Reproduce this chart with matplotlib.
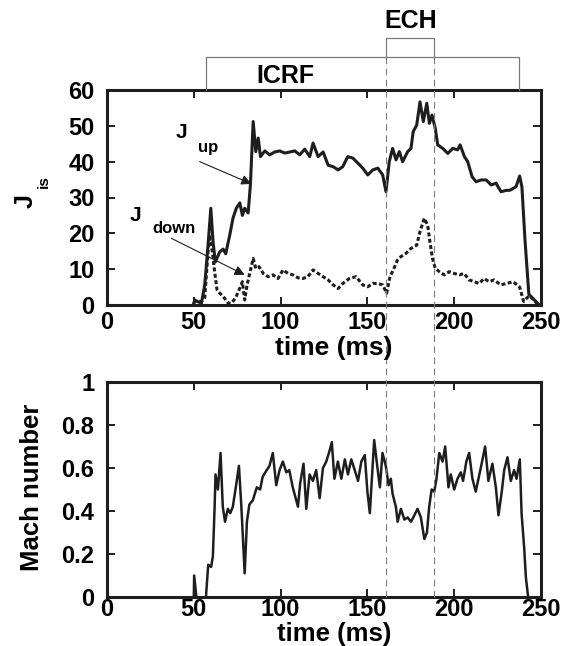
import matplotlib
matplotlib.use("Agg")
import matplotlib.pyplot as plt
from matplotlib.lines import Line2D
from matplotlib.transforms import blended_transform_factory

plt.rcParams['font.family'] = ['Liberation Sans', 'DejaVu Sans']
plt.rcParams['font.weight'] = 'bold'

# J_up (solid)
jup_t = [50, 50.6, 52, 54.4, 56.3, 58.2, 59.8, 61.1, 62.4, 64.9, 66.9, 68.4, 70.7, 72.6,
         74.5, 76.5, 78, 79.3, 81.3, 82.6, 84.2, 85.7, 87.1, 88.4, 90.9, 93.7, 96.6, 99.5,
         102.4, 105.3, 108.2, 111, 113.9, 116.8, 118.7, 121.6, 124.5, 127.4, 130.3, 133.1,
         135.8, 138.7, 141.6, 144.5, 147.3, 150.2, 153.1, 156, 158.8, 160.7, 162.6, 164.5,
         166.5, 168.4, 170.3, 173.2, 175.1, 176.4, 178.4, 180.3, 182.2, 184.2, 185.7, 187.2,
         189.1, 190.5, 193.4, 196.3, 199.2, 202, 203.4, 205.9, 207.8, 210.3, 212.6, 215.5,
         218.4, 221.3, 224.1, 227, 230, 232, 235.6, 237.7, 239, 240.8, 243, 245, 247, 249]
jup = [0.5, 1.4, 1.0, 0.5, 5.6, 16.7, 27, 17.6, 12, 14.8, 15.6, 14.3, 19.5, 24.3,
       27, 28.5, 25, 27, 25.7, 33.5, 51.2, 42.8, 46.6, 41.4, 43, 41.9, 42.7, 43,
       42.4, 42.7, 43, 41.9, 43.5, 41.4, 45.2, 41.4, 42.7, 39, 38.6, 37.7,
       38.6, 41.4, 41, 39.6, 38.2, 36.3, 37.7, 38.2, 36.3, 31.6, 40, 43.7,
       40.5, 42.8, 40, 42.8, 43.7, 48.4, 50.2, 56.7, 51.2, 56.3, 50.7, 53,
       49.3, 44.7, 43.7, 42.3, 43.7, 43.3, 44.7, 41.4, 40, 35.8, 34.4, 34.9,
       34.9, 33.5, 34, 31.6, 32, 32, 33, 36, 33, 18, 3, 2, 1, 0]

# J_down (dashed)
jdown_t = [50, 50.6, 54.4, 56.3, 58.2, 59.2, 60.7, 62, 63.4, 64.9, 66.9, 69.8, 71.6, 74.1,
           76.4, 78, 79.3, 80.7, 82.2, 84.2, 85.7, 87.6, 90, 92.8, 95.6, 98.5, 101.4, 104.3,
           107.1, 110, 112.9, 115.7, 118.7, 121.6, 124.5, 127.4, 130.3, 133.1, 135.8, 139.6,
           143.5, 147.3, 150.2, 153.1, 156, 158.8, 161.1, 163, 164.9, 167.4, 169.3, 172.2,
           175.1, 178.4, 180.3, 182.8, 184.7, 186, 187.5, 189.1, 191.4, 194.3, 197.1, 200,
           202.9, 205.7, 208.6, 211.5, 214.4, 217.2, 220.1, 223, 226.8, 230, 234, 237.7,
           240, 243, 246, 248]
jdown = [0.5, 1, 1, 2, 14.8, 19.5, 14.8, 9.3, 4.2, 3.3, 2.4, 0.5, 0.5, 2,
         4.6, 6.5, 1.4, 5.6, 8.8, 13, 10.2, 10.7, 8.8, 7.9, 8.4, 7.4, 9.8, 8.8,
         8.4, 7.6, 7.4, 7.9, 9.8, 8.8, 7.9, 7, 5.6, 4.6, 6, 7.4,
         7.9, 5.6, 5.1, 6, 6, 5.6, 3.3, 7.9, 9.8, 12.6, 13.5, 14.4,
         15.8, 16.7, 20.5, 24.2, 22.3, 17.7, 13, 10.2, 9.3, 8.4, 9.3, 8.8,
         8.4, 8.8, 7, 6.5, 6, 7.4, 6.5, 7, 5.6, 6, 6.5, 5,
         1, 2.5, 1.5, 0]

# Mach number
mach_t1 = [50, 50.2, 51.5]
mach_v1 = [0, 0.10, 0]
mach_t2 = [57, 58.3, 60, 61, 62, 62.5, 63.9, 65.4, 66.7, 68,
           69.6, 71, 72.5, 74, 76, 77.4, 79.3, 80.6, 82, 84,
           86.3, 88.2, 89.7, 92, 93.6, 95.5, 97.5, 99.4, 101.3, 103.3,
           105, 107, 110, 111.3, 113.2, 114.8, 116.7, 118.6, 120.5, 122.5,
           124.4, 126.3, 128.2, 129.5, 131, 133, 135, 137, 138.8, 140.7,
           142.7, 144.6, 146.5, 148.5, 150, 151.4, 153.9, 155.8, 157.2, 158.7,
           160.6, 162.2, 163.5, 164.5, 166.4, 167.4, 169.3, 171.3, 173.2, 175.1,
           176.4, 178.9, 180.8, 182.8, 184.3, 185.6, 187, 188.5, 189.8, 191.4,
           193.3, 194.8, 196.7, 198, 200, 201.9, 203.8, 205.1, 207, 208.6,
           210.5, 212.4, 215.3, 217.8, 219.7, 222, 224, 225.5, 227.4, 228.8,
           230.7, 232.6, 234.5, 235.9, 237.8, 238.8, 240.3, 241.3, 242.6]
mach_v2 = [0, 0.15, 0.14, 0.19, 0.42, 0.57, 0.5, 0.67, 0.42, 0.35,
           0.41, 0.39, 0.42, 0.5, 0.61, 0.42, 0.11, 0.35, 0.43, 0.45,
           0.51, 0.5, 0.56, 0.59, 0.61, 0.67, 0.52, 0.59, 0.63, 0.58,
           0.59, 0.51, 0.42, 0.53, 0.62, 0.41, 0.57, 0.54, 0.59, 0.46,
           0.6, 0.63, 0.68, 0.72, 0.55, 0.63, 0.55, 0.64, 0.57, 0.64,
           0.59, 0.54, 0.63, 0.66, 0.49, 0.39, 0.73, 0.6, 0.51, 0.67,
           0.61, 0.52, 0.55, 0.48, 0.42, 0.35, 0.41, 0.36, 0.37, 0.35,
           0.37, 0.41, 0.37, 0.27, 0.3, 0.42, 0.5, 0.49, 0.55, 0.67,
           0.63, 0.7, 0.51, 0.57, 0.5, 0.55, 0.58, 0.54, 0.63, 0.67,
           0.55, 0.49, 0.6, 0.7, 0.54, 0.62, 0.51, 0.38, 0.49, 0.59,
           0.65, 0.54, 0.59, 0.55, 0.64, 0.39, 0.23, 0.09, 0]

# heating phases (ms)
icrf = (57, 237.5)
ech = (161, 188.5)

xticks = [0, 50, 100, 150, 200, 250]
jticks = [0, 10, 20, 30, 40, 50, 60]
mticks = [0, 0.2, 0.4, 0.6, 0.8, 1]
mtick_labels = ['0', '0.2', '0.4', '0.6', '0.8', '1']

W, H = 568, 646
fig = plt.figure(figsize=(W / 100, H / 100), dpi=100)
ax1 = fig.add_axes([107 / W, 1 - 305 / H, 434 / W, 215 / H])
ax2 = fig.add_axes([107 / W, 1 - 597 / H, 434 / W, 215 / H])

ink = '#1e1e1e'
ax1.plot(jup_t, jup, color=ink, lw=2.2)
ax1.plot(jdown_t, jdown, color=ink, lw=2.2, linestyle=(0, (1.3, 0.8)))
ax2.plot(mach_t1, mach_v1, color=ink, lw=1.8)
ax2.plot(mach_t2, mach_v2, color=ink, lw=1.8)

for ax in (ax1, ax2):
    ax.set_xlim(0, 250)
    ax.set_xticks(xticks)
    ax.tick_params(direction='in', top=True, right=True, length=6, width=1.4,
                   labelsize=17, color=ink)
    ax.tick_params(axis='y', pad=9)
    for s in ax.spines.values():
        s.set_linewidth(2.2)
        s.set_color(ink)
ax1.tick_params(axis='x', pad=4)
ax2.tick_params(axis='x', pad=1)

ax1.set_ylim(0, 60)
ax1.set_yticks(jticks)
ax2.set_ylim(0, 1)
ax2.set_yticks(mticks)
ax2.set_yticklabels(mtick_labels)

def fx(px):
    return px / W

def fy(py):
    return 1 - py / H

# axis labels
fig.text(fx(334), fy(355), 'time (ms)', fontsize=19, ha='center', va='baseline')
fig.text(fx(334), fy(641), 'time (ms)', fontsize=18.5, ha='center', va='baseline')
fig.text(fx(39), fy(487), 'Mach number', fontsize=18.5, rotation=90,
         rotation_mode='anchor', ha='center', va='baseline')
fig.text(fx(33), fy(201), 'J', fontsize=18, rotation=90,
         rotation_mode='anchor', ha='center', va='baseline')
fig.text(fx(48), fy(182), 'is', fontsize=11, rotation=90,
         rotation_mode='anchor', ha='center', va='baseline')

# curve labels with arrows
ax1.text(43.1, 46.5, 'J', fontsize=15, ha='center', va='baseline')
ax1.text(58, 42.8, 'up', fontsize=12, ha='center', va='baseline')
ax1.text(16.1, 23.5, 'J', fontsize=15, ha='center', va='baseline')
ax1.text(38.5, 20, 'down', fontsize=12, ha='center', va='baseline')
arrow = dict(arrowstyle='-|>', color=ink, lw=0.8, mutation_scale=15,
             shrinkA=0, shrinkB=0)
ax1.annotate('', xy=(83.2, 33.8), xytext=(53.4, 40.0), arrowprops=arrow)
ax1.annotate('', xy=(79.3, 8.4), xytext=(37.1, 18.6), arrowprops=arrow)

# heating brackets and timing lines
tr = blended_transform_factory(ax1.transData, fig.transFigure)
gray = '#7a7a7a'
y_axtop, y_icrf, y_ech, y_bot = fy(90), fy(57), fy(38), fy(597)
fig.add_artist(Line2D([icrf[0], icrf[0], icrf[1], icrf[1]],
                      [y_axtop, y_icrf, y_icrf, y_axtop],
                      transform=tr, color=gray, lw=0.9))
fig.add_artist(Line2D([ech[0], ech[0], ech[1], ech[1]],
                      [y_icrf, y_ech, y_ech, y_icrf],
                      transform=tr, color=gray, lw=0.9))
for t in ech:
    fig.add_artist(Line2D([t, t], [y_icrf, y_bot], transform=tr, color=gray,
                          lw=0.8, linestyle=(0, (6, 4))))
fig.text(sum(ech) / 2, fy(28), 'ECH', transform=tr, fontsize=18,
         ha='center', va='baseline')
fig.text(103, fy(83), 'ICRF', transform=tr, fontsize=18,
         ha='center', va='baseline')

fig.savefig('out.png', dpi=100)
